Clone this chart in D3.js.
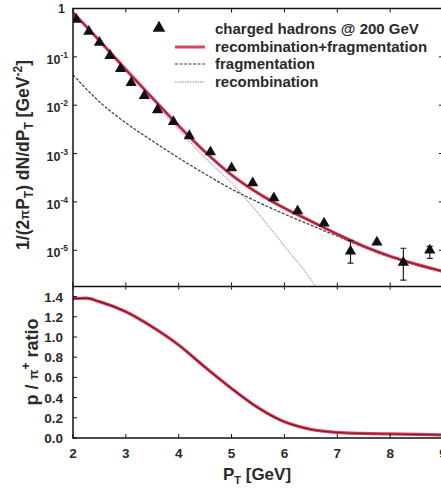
<!DOCTYPE html>
<html lang="en">
<head>
<meta charset="utf-8">
<script src="https://d3js.org/d3.v7.min.js"></script>
<style>
  body { margin: 0; background: #fff; }
  svg { display: block; }
  text { font-family: "Liberation Sans", Arial, sans-serif; font-weight: bold; fill: #2a2a2a; }
</style>
</head>
<body>
<svg id="chart" width="441" height="489"></svg>
<script>
// measured points (charged hadrons @ 200 GeV)
var ptData = [2.06, 2.3, 2.5, 2.7, 2.9, 3.1, 3.35, 3.6, 3.9, 4.2, 4.6, 5.0, 5.4, 5.8, 6.25, 6.75, 7.25, 7.75, 8.25, 8.75];
var yieldData = [0.59, 0.333, 0.197, 0.106, 0.057, 0.029, 0.0157, 0.008, 0.00453, 0.00232, 0.00108, 5.0e-4, 2.45e-4, 1.2e-4, 6.5e-5, 3.6e-5, 9.5e-6, 1.47e-5, 5.6e-6, 1.0e-5];
var errPt = [7.25, 8.25, 8.75];
var errLo = [5.4e-6, 2.4e-6, 6.8e-6];
var errHi = [1.6e-5, 1.1e-5, 1.2e-5];

// model curves
var curvePt = [2.0, 2.5, 3.0, 3.5, 4.0, 4.5, 5.0, 5.5, 6.0, 6.5, 7.0, 7.5, 8.0, 8.5, 9.0];
var recoFrag = [0.826, 0.2168, 0.0543, 0.01424, 3.74e-3, 1.08e-3, 3.6e-4, 1.52e-4, 7.43e-5, 4.0e-5, 2.15e-5, 1.21e-5, 7.5e-6, 5.1e-6, 3.67e-6];
var fragOnly = [0.0427, 0.01177, 4.31e-3, 1.83e-3, 8.1e-4, 3.77e-4, 1.84e-4, 9.9e-5, 5.6e-5, 3.3e-5, 1.95e-5, 1.15e-5, 7.2e-6, 4.9e-6, 3.5e-6];
var recoPt = [2.0, 2.5, 3.0, 3.5, 4.0, 4.5, 5.0, 5.5, 6.0, 6.5, 7.0];
var recoOnly = [0.788, 0.2067, 0.0517, 0.01294, 3.09e-3, 8.1e-4, 2.45e-4, 5.86e-5, 1.21e-5, 2.5e-6, 3.2e-7];

// p / pi+ ratio
var ratioPt = [2.0, 2.25, 2.5, 3.0, 3.5, 4.0, 4.5, 5.0, 5.5, 6.0, 6.5, 7.0, 7.5, 8.0, 8.5, 9.0];
var ratioVal = [1.38, 1.385, 1.35, 1.25, 1.10, 0.92, 0.70, 0.49, 0.30, 0.16, 0.085, 0.055, 0.045, 0.04, 0.035, 0.03];

var xTicks = [2, 3, 4, 5, 6, 7, 8, 9];
var logTicks = [1, 1e-1, 1e-2, 1e-3, 1e-4, 1e-5];
var logExp = ["", "-1", "-2", "-3", "-4", "-5"];
var ratioTicks = [0, 0.2, 0.4, 0.6, 0.8, 1.0, 1.2, 1.4];
var legendLabels = ["charged hadrons @ 200 GeV", "recombination+fragmentation", "fragmentation", "recombination"];

var padL = 73, padR = 443, padT = 8.5, padM = 286.5, padB = 438;

var svg = d3.select("#chart");
svg.append("rect").attr("width", 441).attr("height", 489).attr("fill", "#fff");

var x = d3.scaleLinear().domain([2, 9]).range([padL, padR]);
var yLog = d3.scaleLog().domain([Math.pow(10, -5.75), 1]).range([padM, padT]);
var yRat = d3.scaleLinear().domain([0, 1.5]).range([padB, padM]);

var defs = svg.append("defs");
defs.append("clipPath").attr("id", "clipTop").append("rect")
  .attr("x", padL).attr("y", padT).attr("width", padR - padL).attr("height", padM - padT);
defs.append("clipPath").attr("id", "clipBot").append("rect")
  .attr("x", padL).attr("y", padM).attr("width", padR - padL).attr("height", padB - padM);

// ---- upper panel ----
var up = svg.append("g").attr("clip-path", "url(#clipTop)");

function logLine(xs) {
  return d3.line()
    .x(function (d, i) { return x(xs[i]); })
    .y(function (d) { return yLog(d); })
    .curve(d3.curveMonotoneX);
}

up.append("path").datum(recoOnly)
  .attr("d", logLine(recoPt))
  .attr("fill", "none").attr("stroke", "#a9b3bd").attr("stroke-width", 1.3)
  .attr("stroke-dasharray", "1.5,1");

up.append("path").datum(fragOnly)
  .attr("d", logLine(curvePt))
  .attr("fill", "none").attr("stroke", "#3a3a44").attr("stroke-width", 1.2)
  .attr("stroke-dasharray", "3,1.5");

up.append("path").datum(recoFrag)
  .attr("d", logLine(curvePt))
  .attr("fill", "none").attr("stroke", "#e0405c").attr("stroke-width", 3.2);
up.append("path").datum(recoFrag)
  .attr("d", logLine(curvePt))
  .attr("fill", "none").attr("stroke", "#6a1a26").attr("stroke-width", 1);

// error bars
errPt.forEach(function (p, i) {
  var cx = x(p);
  up.append("line").attr("x1", cx).attr("x2", cx)
    .attr("y1", yLog(errLo[i])).attr("y2", yLog(errHi[i]))
    .attr("stroke", "#222").attr("stroke-width", 1.2);
  [errLo[i], errHi[i]].forEach(function (v) {
    up.append("line").attr("x1", cx - 3).attr("x2", cx + 3)
      .attr("y1", yLog(v)).attr("y2", yLog(v))
      .attr("stroke", "#222").attr("stroke-width", 1.2);
  });
});

var tri = d3.symbol().type(d3.symbolTriangle).size(55);
up.selectAll("path.pt")
  .data(yieldData)
  .enter().append("path")
  .attr("class", "pt")
  .attr("d", tri)
  .attr("transform", function (d, i) { return "translate(" + x(ptData[i]) + "," + yLog(d) + ")"; })
  .attr("fill", "#111");

// ---- lower panel ----
var lo = svg.append("g").attr("clip-path", "url(#clipBot)");
var ratioLine = d3.line()
  .x(function (d, i) { return x(ratioPt[i]); })
  .y(function (d) { return yRat(d); })
  .curve(d3.curveMonotoneX);
lo.append("path").datum(ratioVal).attr("d", ratioLine)
  .attr("fill", "none").attr("stroke", "#e0405c").attr("stroke-width", 3.2);
lo.append("path").datum(ratioVal).attr("d", ratioLine)
  .attr("fill", "none").attr("stroke", "#6a1a26").attr("stroke-width", 1.1);

// ---- frames and ticks ----
var frame = svg.append("g").attr("stroke", "#111").attr("fill", "none");
frame.append("rect").attr("x", padL).attr("y", padT).attr("width", padR - padL).attr("height", padB - padT).attr("stroke-width", 1.5);
frame.append("line").attr("x1", padL).attr("x2", padR).attr("y1", padM).attr("y2", padM).attr("stroke-width", 1.5);

xTicks.forEach(function (t) {
  var tx = x(t);
  [[padT, 4], [padM, -4], [padM, 3], [padB, -4]].forEach(function (s) {
    frame.append("line").attr("x1", tx).attr("x2", tx)
      .attr("y1", s[0]).attr("y2", s[0] + s[1]).attr("stroke-width", 1);
  });
});
logTicks.forEach(function (t) {
  frame.append("line").attr("x1", padL).attr("x2", padL + 4)
    .attr("y1", yLog(t)).attr("y2", yLog(t)).attr("stroke-width", 1);
  frame.append("line").attr("x1", padR).attr("x2", padR - 4)
    .attr("y1", yLog(t)).attr("y2", yLog(t)).attr("stroke-width", 1);
});
ratioTicks.forEach(function (t) {
  frame.append("line").attr("x1", padL).attr("x2", padL + 4)
    .attr("y1", yRat(t)).attr("y2", yRat(t)).attr("stroke-width", 1);
});

// tick labels
logTicks.forEach(function (t, i) {
  var lab = svg.append("text")
    .attr("x", i === 0 ? 65 : 68)
    .attr("y", yLog(t) + (i === 0 ? 4 : 7))
    .attr("text-anchor", "end")
    .style("font-size", "12.5px");
  lab.append("tspan").text(i === 0 ? "1" : "10");
  if (logExp[i]) {
    lab.append("tspan").attr("dy", -6).style("font-size", "8.5px").text(logExp[i]);
  }
});

svg.selectAll("text.rt")
  .data(ratioTicks)
  .enter().append("text")
  .attr("class", "rt")
  .attr("x", 63)
  .attr("y", function (d) { return yRat(d) + 5; })
  .attr("text-anchor", "end")
  .style("font-size", "13.5px")
  .text(function (d) { return d3.format(".1f")(d); });

svg.selectAll("text.xt")
  .data(xTicks)
  .enter().append("text")
  .attr("class", "xt")
  .attr("x", function (d) { return x(d); })
  .attr("y", 458)
  .attr("text-anchor", "middle")
  .style("font-size", "13.5px")
  .text(function (d) { return d; });

// axis titles
var xt = svg.append("text").attr("x", 257).attr("y", 480).attr("text-anchor", "middle").style("font-size", "17px");
xt.append("tspan").text("P");
xt.append("tspan").attr("dy", 4).style("font-size", "11px").text("T");
xt.append("tspan").attr("dy", -4).text(" [GeV]");

var yt = svg.append("text").attr("transform", "translate(29,155) rotate(-90)")
  .attr("text-anchor", "middle").style("font-size", "17.5px");
yt.append("tspan").text("1/(2");
yt.append("tspan").style("font-size", "13px").text("\u03c0");
yt.append("tspan").text("P");
yt.append("tspan").attr("dy", 4).style("font-size", "12px").text("T");
yt.append("tspan").attr("dy", -4).text(") dN/dP");
yt.append("tspan").attr("dy", 4).style("font-size", "12px").text("T");
yt.append("tspan").attr("dy", -4).text(" [GeV");
yt.append("tspan").attr("dy", -7).style("font-size", "12px").text("-2");
yt.append("tspan").attr("dy", 7).text("]");

var yr = svg.append("text").attr("transform", "translate(38,362) rotate(-90)")
  .attr("text-anchor", "middle").style("font-size", "18px");
yr.append("tspan").text("p / ");
yr.append("tspan").style("font-size", "13px").text("\u03c0");
yr.append("tspan").attr("dy", -8).style("font-size", "12px").text("+");
yr.append("tspan").attr("dy", 8).text(" ratio");

// legend
var leg = svg.append("g");
var legY = [29, 47, 64, 82];
leg.append("path").attr("d", d3.symbol().type(d3.symbolTriangle).size(70))
  .attr("transform", "translate(159," + (legY[0] - 1) + ")").attr("fill", "#111");
leg.append("line").attr("x1", 175).attr("x2", 205).attr("y1", legY[1]).attr("y2", legY[1])
  .attr("stroke", "#e0405c").attr("stroke-width", 3);
leg.append("line").attr("x1", 175).attr("x2", 205).attr("y1", legY[2]).attr("y2", legY[2])
  .attr("stroke", "#3a3a44").attr("stroke-width", 1.2).attr("stroke-dasharray", "3,1.5");
leg.append("line").attr("x1", 175).attr("x2", 205).attr("y1", legY[3]).attr("y2", legY[3])
  .attr("stroke", "#a9b3bd").attr("stroke-width", 1.3).attr("stroke-dasharray", "1.5,1");
leg.selectAll("text")
  .data(legendLabels)
  .enter().append("text")
  .attr("x", 215)
  .attr("y", function (d, i) { return legY[i] + 5; })
  .style("font-size", "15px")
  .text(function (d) { return d; });
</script>
</body>
</html>
